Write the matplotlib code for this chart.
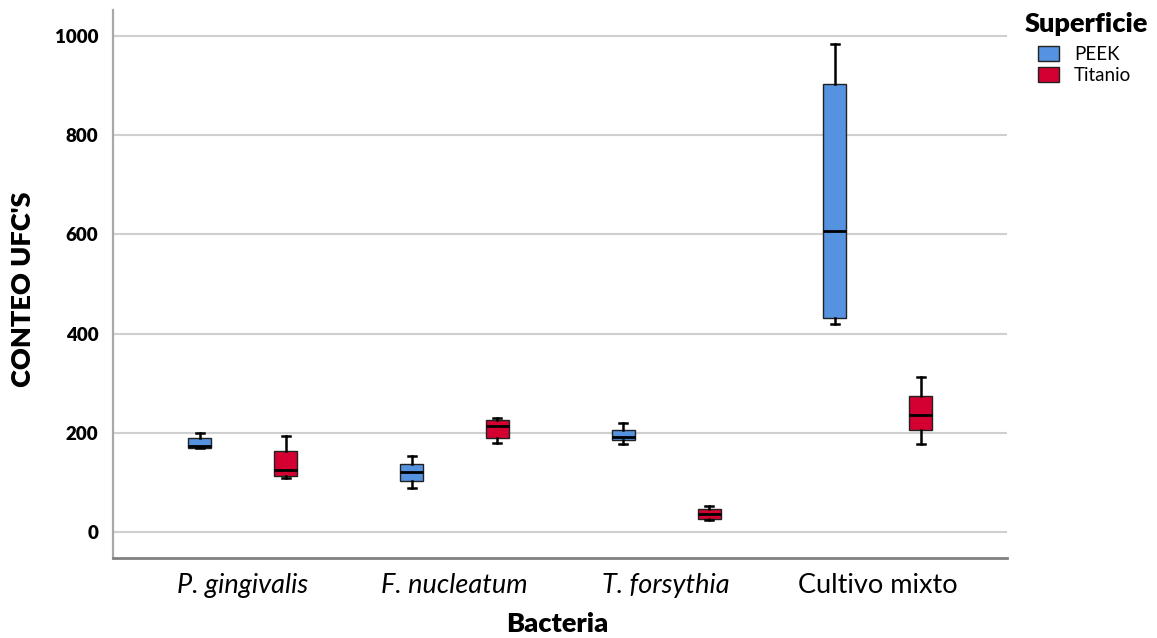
"""Box plot of CFU counts by bacteria and surface."""
import matplotlib.pyplot as plt
from matplotlib.patches import Patch

bacteria = ["P. gingivalis", "F. nucleatum", "T. forsythia", "Cultivo mixto"]
italic = [True, True, True, False]
surfaces = ["PEEK", "Titanio"]
colors = {"PEEK": "#5592DF", "Titanio": "#D50032"}

# five-number summaries, one value per bacteria
peek_whislo = [170, 89, 177, 420]
peek_q1 = [170, 104, 185, 432]
peek_med = [174, 121, 192, 606]
peek_q3 = [190, 138, 206, 903]
peek_whishi = [200, 154, 219, 983]

tit_whislo = [110, 180, 24, 178]
tit_q1 = [114, 190, 26, 206]
tit_med = [126, 214, 37, 236]
tit_q3 = [163, 227, 47, 274]
tit_whishi = [193, 230, 52, 312]

summaries = {
    "PEEK": (peek_whislo, peek_q1, peek_med, peek_q3, peek_whishi),
    "Titanio": (tit_whislo, tit_q1, tit_med, tit_q3, tit_whishi),
}

plt.rcParams["font.family"] = ["Lato", "DejaVu Sans"]

fig = plt.figure(figsize=(11.57, 6.38), dpi=100)
ax = fig.add_axes([0.0977, 0.1254, 0.7723, 0.8589])

offset = 0.203
width = 0.108
for k, surf in enumerate(surfaces):
    lo, q1, med, q3, hi = summaries[surf]
    stats = [
        {"whislo": lo[i], "q1": q1[i], "med": med[i], "q3": q3[i], "whishi": hi[i], "fliers": []}
        for i in range(len(bacteria))
    ]
    pos = [i + (k - 0.5) * 2 * offset for i in range(len(bacteria))]
    ax.bxp(
        stats, positions=pos, widths=width, patch_artist=True, showfliers=False,
        capwidths=width * 0.35,
        boxprops=dict(facecolor=colors[surf], edgecolor="#222222", linewidth=1.0),
        medianprops=dict(color="black", linewidth=2.0),
        whiskerprops=dict(color="black", linewidth=1.8),
        capprops=dict(color="black", linewidth=1.8),
        zorder=3,
    )

ax.set_xlim(-0.613, 3.608)
ax.set_ylim(-52, 1052)
ax.set_yticks([0, 200, 400, 600, 800, 1000])
ax.set_xticks(range(len(bacteria)))
ax.set_xticklabels(bacteria)
for lbl, it in zip(ax.get_xticklabels(), italic):
    lbl.set_fontstyle("italic" if it else "normal")
    lbl.set_fontsize(19.5)
for lbl in ax.get_yticklabels():
    lbl.set_fontweight("heavy")
    lbl.set_fontsize(13.5)
ax.tick_params(axis="both", length=0)
ax.tick_params(axis="x", pad=11)
ax.tick_params(axis="y", pad=10.5)

ax.yaxis.grid(True, color="#cfcfcf", linewidth=1.5, zorder=0)
ax.set_axisbelow(True)
for side in ["top", "right"]:
    ax.spines[side].set_visible(False)
ax.spines["left"].set_color("#a8a8a8")
ax.spines["bottom"].set_color("#808080")
ax.spines["left"].set_linewidth(1.6)
ax.spines["bottom"].set_linewidth(2.0)

ax.set_ylabel("CONTEO UFC'S", fontsize=19.5, fontweight="heavy", va="center")
ax.yaxis.set_label_coords(-0.1007, 0.49)
ax.set_xlabel("Bacteria", fontsize=19.5, fontweight="heavy", va="baseline")
ax.xaxis.set_label_coords(0.4975, -0.135)

fig.text(1025 / 1157, 1 - 32 / 638, "Superficie", fontsize=19.5, fontweight="heavy",
         ha="left", va="baseline")
handles = [Patch(facecolor=colors[s], edgecolor="#222222", label=s) for s in surfaces]
fig.legend(
    handles=handles, loc="upper left", bbox_to_anchor=(1038 / 1157, 1 - 46 / 638),
    frameon=False, fontsize=13.5, borderpad=0, borderaxespad=0,
    handlelength=1.12, handleheight=0.85, labelspacing=0.22, handletextpad=0.8,
)

fig.savefig("out.png", dpi=100)
